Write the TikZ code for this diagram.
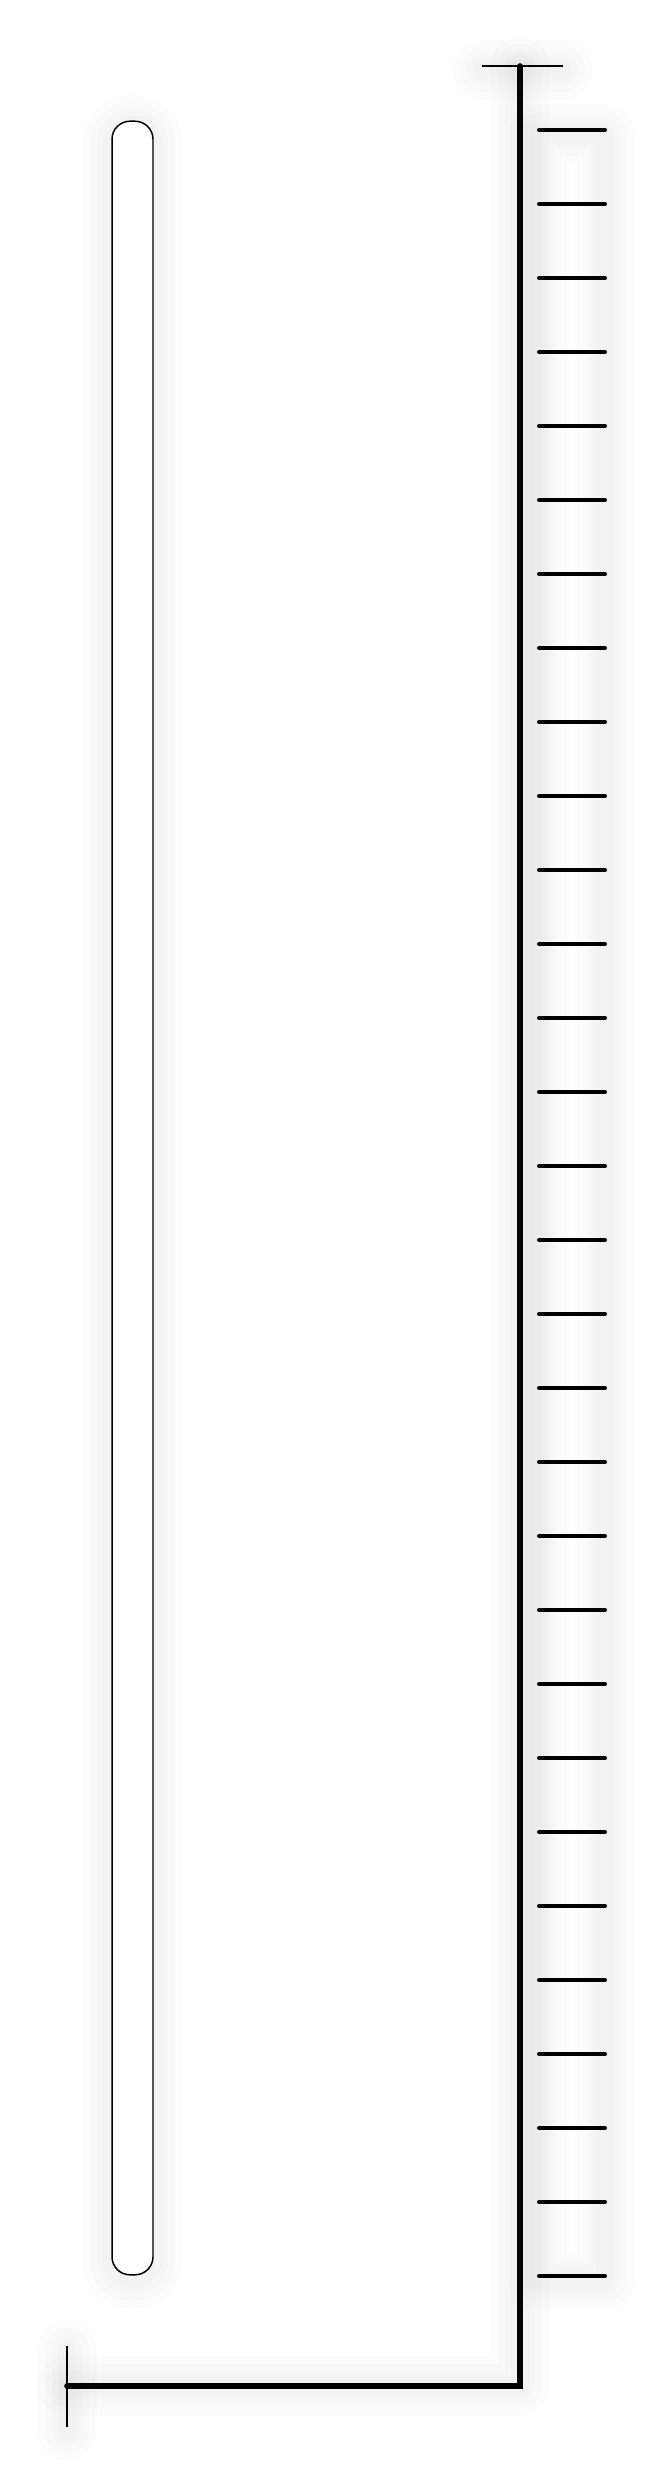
\documentclass[tikz,border=0pt]{standalone}
\usetikzlibrary{positioning}

\begin{document}
\begin{tikzpicture}[x=0.02cm,y=0.02cm,
    frame/.style={line width=3.2pt,line cap=round,line join=miter},
    capline/.style={line width=1.1pt},
    tick/.style={line width=2.3pt,line cap=round},
    tube/.style={draw,line width=0.85pt,rounded corners=0.36cm,inner sep=0pt,
      minimum width=0.82cm,minimum height=43.08cm},
    glow/.style={black,opacity=0.012,line cap=round,line join=round}]
  \useasboundingbox (0,0) rectangle (668,-2492);

  % key points of the ruler frame
  \coordinate (top)    at (520,-66);
  \coordinate (corner) at (520,-2386);
  \coordinate (left)   at (67,-2386);

  % soft shadow
  \begin{scope}[yshift=-0.08cm]
    \foreach \w in {60,44,30,18} {
      \draw[glow,line width=\w*0.567pt] (top) -- (corner) -- (left);
      \draw[glow,line width=\w*0.567pt] (482,-66) -- (563,-66);
      \draw[glow,line width=\w*0.567pt] (67,-2346) -- (67,-2427);
      \draw[glow,line width=\w*0.567pt] (539,-130) -- (605,-130) -- (605,-2276) -- (539,-2276) -- cycle;
      \draw[glow,line width=\w*0.567pt,rounded corners=0.36cm] (112,-121) rectangle (153,-2275);
    }
  \end{scope}

  % tube
  \node[tube,fill=white] (tube) at (132.5,-1198) {};

  % frame
  \draw[frame] (top) -- (corner) -- (left);
  \draw[capline] (482,-66) -- (563,-66);
  \draw[capline] (67,-2346) -- (67,-2427);

  % scale ticks
  \foreach \i in {0,...,29} {
    \draw[tick] (539,-130-74*\i) -- (605,-130-74*\i);
  }
\end{tikzpicture}
\end{document}
